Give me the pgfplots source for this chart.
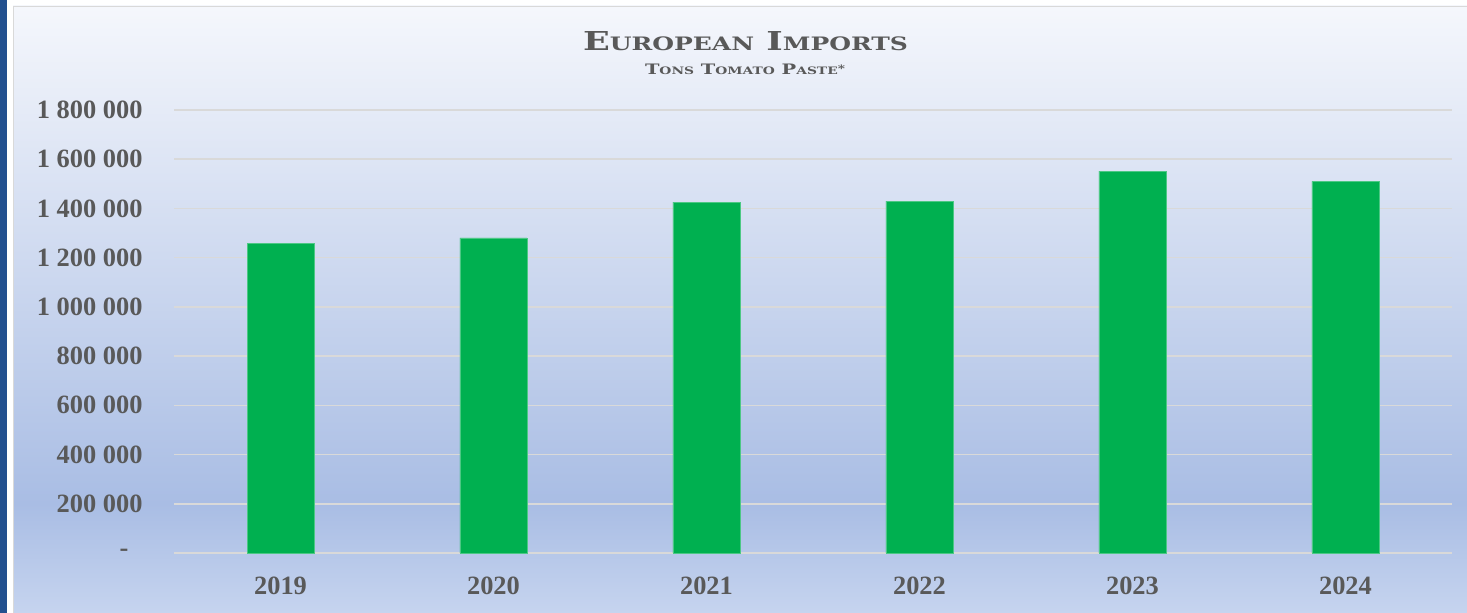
\documentclass[border=0pt]{standalone}
\usepackage{fontspec}
\setmainfont{Liberation Serif}
\newfontfamily\titlefont{DejaVu Serif}
\usepackage{graphicx}
\usepackage{pgfplots}
\pgfplotsset{compat=1.18}
\definecolor{txt}{HTML}{595959}
\definecolor{bargreen}{HTML}{00B050}
\definecolor{gridc}{HTML}{D9D9D9}
\definecolor{ctop}{HTML}{F5F7FC}
\definecolor{cmid}{HTML}{A9BDE4}
\definecolor{cbot}{HTML}{C6D4EF}
\definecolor{strip}{HTML}{22508F}
\pgfdeclareverticalshading{chartbg}{100bp}{color(0bp)=(cbot); color(25bp)=(cbot); color(34bp)=(cmid); color(75bp)=(ctop); color(100bp)=(ctop)}
\newcommand\BIG[1]{{\fontsize{20}{22}\selectfont #1}}
\newcommand\SM[1]{{\fontsize{14.2}{16}\selectfont #1}}
\newlength\caph
\begin{document}
\settoheight\caph{\titlefont\bfseries\BIG{T}}%
\begin{tikzpicture}[x=1bp,y=1bp]
\fill[white] (0,0) rectangle (1467,613);
\fill[strip] (0,0) rectangle (7,613);
\shade[shading=chartbg] (13,0) rectangle (1467,607);
\draw[gridc, line width=1bp] (13.5,0) -- (13.5,606.5) -- (1467,606.5);
\node[anchor=base, text=txt, inner sep=0] at (745.5,562) {\resizebox{325bp}{19bp}{\raisebox{0pt}[\caph][0pt]{\titlefont\bfseries\BIG{E}\SM{UROPEAN}\BIG{ I}\SM{MPORTS}}}};
\node[anchor=base, text=txt, inner sep=0] at (745,538) {\resizebox{200bp}{10.5bp}{\raisebox{0pt}[\caph][0pt]{\titlefont\bfseries\BIG{T}\SM{ONS}\BIG{ T}\SM{OMATO}\BIG{ P}\SM{ASTE}\raisebox{3pt}{\SM{*}}}}};
\begin{axis}[
  at={(174bp,60bp)}, anchor=south west,
  scale only axis, width=1278bp, height=443bp,
  xmin=-0.5, xmax=5.5, ymin=0, ymax=1800000,
  scaled y ticks=false,
  ybar, bar width=67bp,
  ytick={0,200000,400000,600000,800000,1000000,1200000,1400000,1600000,1800000},
  yticklabels={\raisebox{-4bp}{-}\kern14bp,200 000,400 000,600 000,800 000,1 000 000,1 200 000,1 400 000,1 600 000,1 800 000},
  xtick={0,1,2,3,4,5},
  xticklabels={2019,2020,2021,2022,2023,2024},
  ymajorgrids, grid style={gridc, line width=1.6bp},
  axis line style={draw=none},
  major tick length=0,
  tick label style={font=\bfseries\fontsize{26.5}{30}\selectfont, text=txt},
  yticklabel style={xshift=-28bp},
  xticklabel style={yshift=-20bp},
  clip=false,
]
\addplot[fill=bargreen, draw=bargreen!70!white, line width=0.7bp] coordinates {(0,1257000) (1,1280000) (2,1426000) (3,1430000) (4,1552000) (5,1510000)};
\end{axis}
\pgfresetboundingbox
\useasboundingbox (0,0) rectangle (1467,613);
\end{tikzpicture}
\end{document}
